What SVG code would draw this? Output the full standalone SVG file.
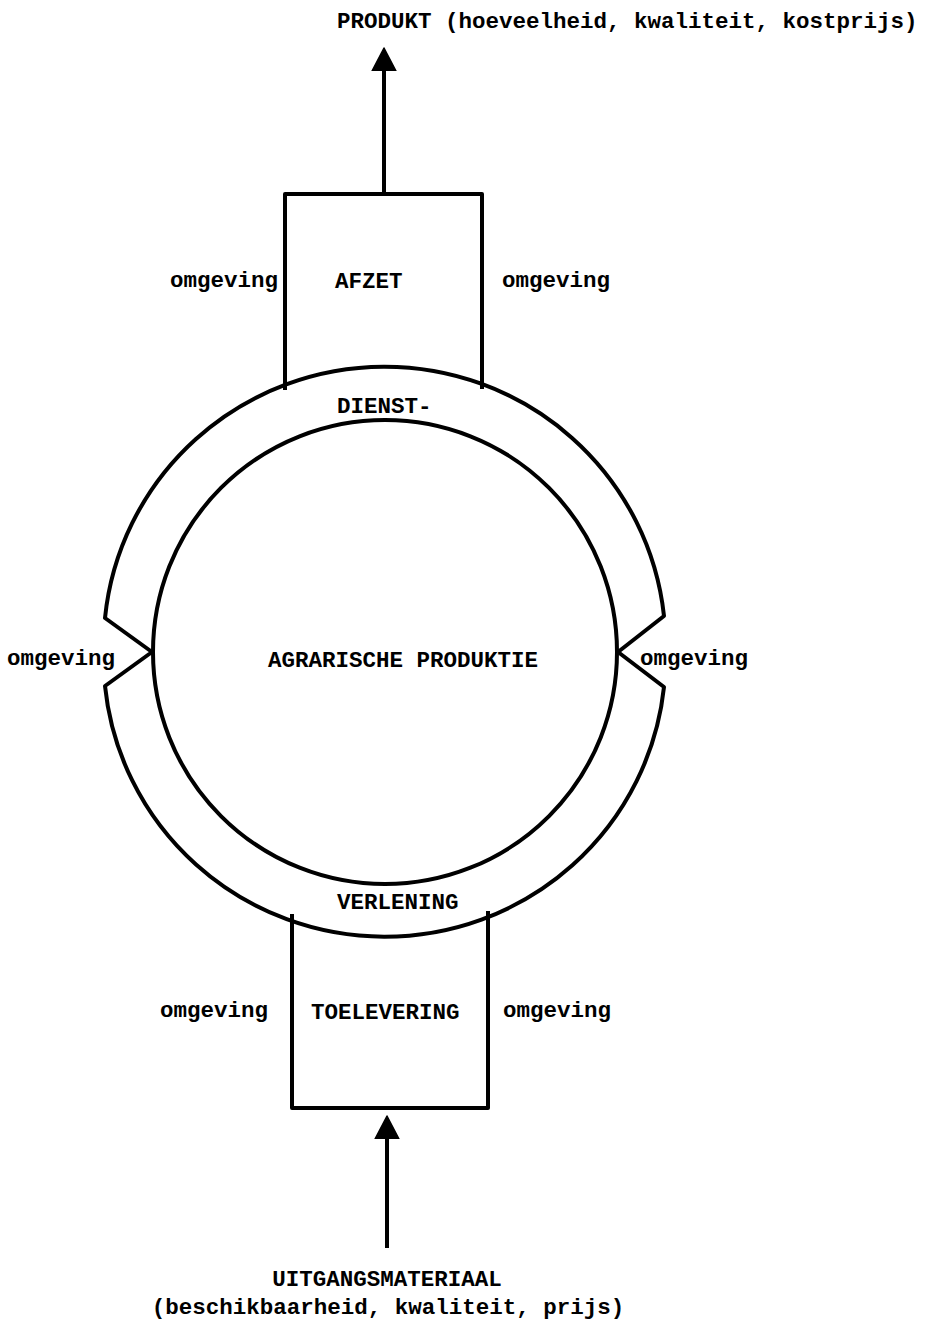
<svg xmlns="http://www.w3.org/2000/svg" width="938" height="1320" viewBox="0 0 938 1320">
<style>
  .ln{fill:none;stroke:#000;stroke-width:4;stroke-linejoin:round;stroke-linecap:butt}
  .t{font-family:"Liberation Mono","DejaVu Sans Mono",monospace;font-size:22.5px;font-weight:bold;fill:#000}
  .c{text-anchor:middle}
</style>
<defs>
  <marker id="ah" viewBox="0 0 24 26" markerWidth="24" markerHeight="26" refX="1" refY="13" orient="auto" markerUnits="userSpaceOnUse">
    <path d="M0,1 L23,13 L0,25 z" fill="#000" stroke="#000" stroke-width="1.5" stroke-linejoin="round"/>
  </marker>
</defs>
<rect width="938" height="1320" fill="#fff"/>

<g id="node-dienstverlening">
  <path class="ln" d="M105,618 A281,279 0 0 1 664,616 L618,652 L664,687 A281,279 0 0 1 105,686 L152,652 Z"/>
  <text class="t" x="337" y="413">DIENST-</text>
  <text class="t" x="337" y="909">VERLENING</text>
</g>

<g id="node-agrarische-produktie">
  <circle class="ln" cx="385" cy="652" r="232"/>
  <text class="t" x="268" y="667">AGRARISCHE PRODUKTIE</text>
</g>

<g id="node-afzet">
  <path class="ln" d="M285,390 V194 H482 V389"/>
  <text class="t" x="335" y="288">AFZET</text>
</g>

<g id="node-toelevering">
  <path class="ln" d="M292,914 V1108 H488 V911"/>
  <text class="t" x="311" y="1019">TOELEVERING</text>
</g>

<g id="labels">
  <text class="t" x="337" y="28">PRODUKT (hoeveelheid, kwaliteit, kostprijs)</text>
  <text class="t" x="170" y="287">omgeving</text>
  <text class="t" x="502" y="287">omgeving</text>
  <text class="t" x="7" y="665">omgeving</text>
  <text class="t" x="640" y="665">omgeving</text>
  <text class="t" x="160" y="1017">omgeving</text>
  <text class="t" x="503" y="1017">omgeving</text>
  <text class="t c" x="387" y="1286">UITGANGSMATERIAAL</text>
  <text class="t c" x="388" y="1314">(beschikbaarheid, kwaliteit, prijs)</text>
</g>

<g id="connectors">
  <line class="ln" x1="384" y1="194" x2="384" y2="70" marker-end="url(#ah)"/>
  <line class="ln" x1="387" y1="1248" x2="387" y2="1138" marker-end="url(#ah)"/>
</g>
</svg>
